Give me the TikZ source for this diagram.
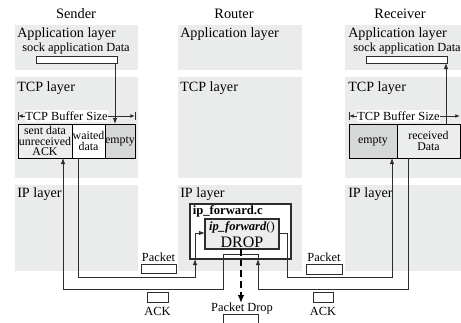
\documentclass[tikz,border=0pt]{standalone}
\usepackage{fontspec}
\setmainfont{Liberation Serif}
\usetikzlibrary{arrows.meta,fit}
\definecolor{panelgray}{RGB}{234,235,235}
\definecolor{cellgray}{RGB}{236,237,237}
\definecolor{emptygray}{RGB}{214,215,215}
\definecolor{linegray}{RGB}{45,45,45}
\begin{document}
\begin{tikzpicture}[x=0.75pt,y=-0.75pt,
  panel/.style={fill=panelgray,draw=none,inner sep=0,outer sep=0},
  title/.style={inner sep=0,font=\fontsize{10.8}{12}\selectfont},
  lbl/.style={anchor=west,inner sep=0,font=\fontsize{10.6}{12}\selectfont},
  small/.style={inner sep=0,font=\fontsize{9.3}{10}\selectfont},
  sbox/.style={draw=linegray,fill=white,line width=0.7pt,inner sep=0,outer sep=0},
  cell/.style={draw=black,line width=0.75pt,inner sep=0,outer sep=0},
  celltext/.style={draw=none,inner sep=0,align=center,
    font=\fontsize{8.9}{7.7}\selectfont},
  conn/.style={draw=linegray,line width=0.75pt},
  tip/.style={-{Latex[length=4.5pt,width=3.4pt]}},
  dim/.style={draw=linegray,line width=0.6pt,{Latex[length=3.5pt,width=2.8pt]}-{Latex[length=3.5pt,width=2.8pt]}},
  fbox/.style={draw=linegray,line width=0.8pt,inner sep=0,outer sep=0}
]
\useasboundingbox (0,0) rectangle (461,322);

% panels
\node[panel,fit={(15,25) (138,70)}] (sapp) {};
\node[panel,fit={(15,77) (138,178)}] (stcp) {};
\node[panel,fit={(15,185) (138,271)}] (sip) {};
\node[panel,fit={(178,25) (302,70)}] (rapp) {};
\node[panel,fit={(178,77) (302,178)}] (rtcp) {};
\node[panel,fit={(178,185) (302,271)}] (rip) {};
\node[panel,fit={(345,25) (461,70)}] (capp) {};
\node[panel,fit={(345,77) (461,178)}] (ctcp) {};
\node[panel,fit={(345,185) (461,271)}] (cip) {};

% titles
\node[title] (tsend) at (76,14) {Sender};
\node[title] (trout) at (234,14) {Router};
\node[title] (trecv) at (400,14) {Receiver};

% layer labels
\node[lbl] (l1) at (17,34) {Application layer};
\node[lbl] (l2) at (17,88) {TCP layer};
\node[lbl] (l3) at (17,194) {IP layer};
\node[lbl] (l4) at (180,34) {Application layer};
\node[lbl] (l5) at (180,88) {TCP layer};
\node[lbl] (l6) at (180,194) {IP layer};
\node[lbl] (l7) at (348,34) {Application layer};
\node[lbl] (l8) at (348,88) {TCP layer};
\node[lbl] (l9) at (348,194) {IP layer};

% sock application data
\node[small,anchor=west] (ssock) at (22,48.5) {sock application Data};
\node[sbox,fit={(36,56) (117,63)}] (sbx) {};
\node[small,anchor=west] (csock) at (353,48.5) {sock application Data};
\node[sbox,fit={(366,56) (447,63)}] (cbx) {};

% sender buffer
\node[cell,fill=cellgray,fit={(18,124) (72,158)}] (ssent) {};
\node[celltext] (tsent) at (ssent.center) {sent data\\unreceived\\ACK};
\node[cell,fill=white,fit={(72,124) (105,158)}] (swait) {};
\node[celltext] (twait) at (swait.center) {waited\\[1pt]data};
\node[cell,fill=emptygray,fit={(105,124) (135,158)}] (sempty) {};
\node[celltext] (tsempty) at (sempty.center) {empty};

% receiver buffer
\node[cell,fill=emptygray,fit={(349,124) (397,158)}] (cempty) {};
\node[celltext] (tcempty) at (cempty.center) {empty};
\node[cell,fill=cellgray,fit={(397,124) (460,158)}] (crecv) {};
\node[celltext] (tcrecv) at (crecv.center) {received\\[1pt]Data};

% buffer size dimensions
\draw[dim] (18,116) -- (135,116);
\draw[draw=linegray,line width=0.6pt] (18,112) -- (18,120) (135,112) -- (135,120);
\node[small,fill=white,inner xsep=0.5pt,inner ysep=1pt] (sdim) at (66.5,116) {TCP Buffer Size};
\draw[dim] (349,116) -- (460,116);
\draw[draw=linegray,line width=0.6pt] (349,112) -- (349,120);
\node[small,fill=white,inner xsep=0.5pt,inner ysep=1pt] (cdim) at (398.5,116) {TCP Buffer Size};

% application <-> buffer
\coordinate (s115) at (115,0);
\coordinate (c446) at (446,0);
\draw[conn,tip] (sbx.south -| s115) -- (sempty.north -| s115);
\draw[conn,tip] (crecv.north -| c446) -- (cbx.south -| c446);

% router ip_forward
\node[fbox,fill=white,fit={(190,204) (291,259)}] (fwdc) {};
\node[anchor=west,inner sep=0,font=\fontsize{9.5}{10}\selectfont\bfseries] (fwdcl) at (192.5,211.5) {ip\_forward.c};
\node[fbox,fill=cellgray,fit={(205,219) (279,249)}] (fwd) {};
\node[inner sep=0,font=\fontsize{9.4}{10}\selectfont] (fwdn) at (242,227.5) {\textbf{\textit{ip\_forward}}()};
\node[inner sep=0,font=\fontsize{12}{12}\selectfont] (drop) at (242,242) {DROP};

% connector bends
\coordinate (p1) at (78,277);
\coordinate (p2) at (195,277);
\coordinate (p3) at (195,233);
\coordinate (p4) at (287,233);
\coordinate (p5) at (287,277);
\coordinate (p6) at (392,277);
\coordinate (a1) at (408,289);
\coordinate (a2) at (258,289);
\coordinate (a3) at (258,254);
\coordinate (a4) at (223,254);
\coordinate (a5) at (223,289);
\coordinate (a6) at (63,289);

% packet path
\draw[conn,tip] (swait.south -| p1) -- (p1) -- (p2) -- (fwdc.south -| p2);
\draw[conn,tip] (fwdc.south -| p2) -- (p3) -- (fwd.west |- p3);
\draw[conn,tip] (fwd.east |- p4) -- (p4) -- (p5) -- (p6) -- (cempty.south -| p6);
% ack path
\draw[conn,tip] (crecv.south -| a1) -- (a1) -- (a2) -- (fwdc.south -| a2);
\draw[conn,tip] (fwdc.south -| a2) -- (a3) -- (a4) -- (a5) -- (a6) -- (ssent.south -| a6);

% drop
\coordinate (d2) at (241,303);
\draw[draw=black,line width=1.6pt,dash pattern=on 5pt off 3pt,-{Latex[length=6pt,width=5pt]}] (fwd.south -| d2) -- (d2);
\node[small] (pdrop) at (242,308.5) {Packet Drop};
\node[sbox,fill=none,fit={(223,314.5) (258,330)}] (dropbox) {};

% packets and acks
\node[small] (spk) at (158.5,257) {Packet};
\node[sbox,fit={(141,264) (176,273)}] (spkb) {};
\node[sbox,fit={(147,292) (168,302)}] (sackb) {};
\node[small] (sack) at (157.5,311) {ACK};
\node[small] (cpk) at (324,257) {Packet};
\node[sbox,fit={(306,264) (342,274)}] (cpkb) {};
\node[sbox,fit={(313,292) (333,302)}] (cackb) {};
\node[small] (cack) at (323,311) {ACK};
\end{tikzpicture}
\end{document}
